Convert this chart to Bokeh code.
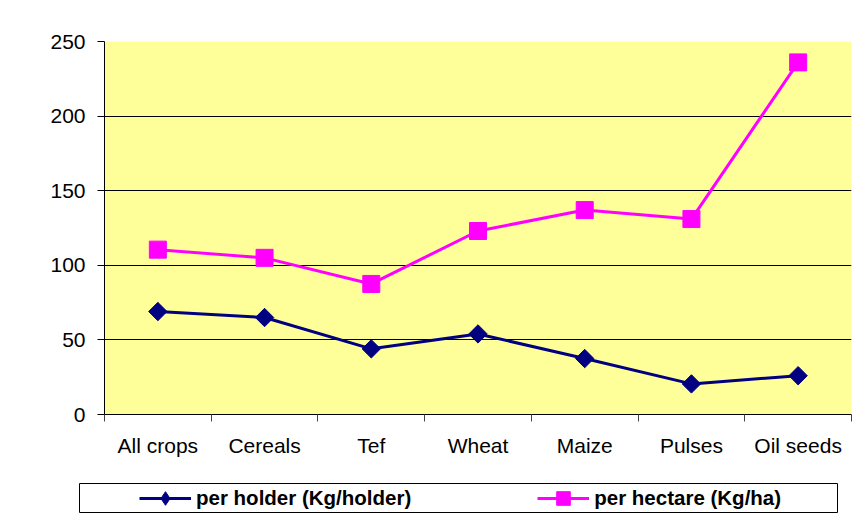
import math
from bokeh.plotting import figure
from bokeh.layouts import column
from bokeh.models import (FixedTicker, LinearAxis, Legend, LegendItem,
                          Range1d, CustomJSTickFormatter)
from bokeh.embed import file_html
from bokeh.resources import INLINE

categories = ["All crops", "Cereals", "Tef", "Wheat", "Maize", "Pulses", "Oil seeds"]
per_holder = [69, 65, 44, 54, 37.5, 20.5, 26]
per_hectare = [110.5, 105, 87.5, 123, 137, 131, 236]
y_ticks = [0, 50, 100, 150, 200, 250]
grid_ticks = [50, 100, 150, 200]
label_holder = "per holder (Kg/holder)"
label_hectare = "per hectare (Kg/ha)"

xs = [i + 0.5 for i in range(len(categories))]
FONT = "Liberation Sans"
NAVY = "#000080"
MAGENTA = "#FF00FF"

p = figure(width=855, height=470, output_backend="svg", toolbar_location=None,
           x_range=Range1d(0, len(categories)), y_range=Range1d(0, 250),
           x_axis_location=None, frame_align=False,
           min_border_left=104, min_border_right=4, min_border_top=41, min_border_bottom=56)
p.background_fill_color = "#FFFF99"
p.border_fill_color = "white"
p.outline_line_color = None
p.xgrid.visible = False

# y axis
p.yaxis.ticker = FixedTicker(ticks=y_ticks)
p.yaxis.major_tick_in = 0
p.yaxis.major_tick_out = 7
p.yaxis.minor_tick_line_color = None
p.yaxis.axis_line_color = "black"
p.yaxis.major_tick_line_color = "black"
p.yaxis.major_label_text_font = FONT
p.yaxis.major_label_text_font_size = "21px"
p.yaxis.major_label_text_color = "black"
p.yaxis.major_label_standoff = 12

p.ygrid.ticker = FixedTicker(ticks=grid_ticks)
p.ygrid.grid_line_color = "black"
p.ygrid.grid_line_width = 1

# x axis: boundary ticks
bound_axis = LinearAxis(ticker=FixedTicker(ticks=list(range(len(categories) + 1))),
                        formatter=CustomJSTickFormatter(code="return ''"),
                        major_tick_in=0, major_tick_out=7, minor_tick_line_color=None,
                        major_label_standoff=0, major_label_text_font_size="1px",
                        axis_line_color="black", major_tick_line_color="#444444")
p.add_layout(bound_axis, "below")

label_axis = LinearAxis(ticker=FixedTicker(ticks=xs),
                        formatter=CustomJSTickFormatter(args=dict(names=categories),
                                                        code="return names[Math.floor(tick)]"),
                        major_tick_line_color=None, minor_tick_line_color=None,
                        axis_line_color=None, major_label_standoff=6,
                        major_label_text_font=FONT, major_label_text_font_size="21px",
                        major_label_text_color="black")
p.add_layout(label_axis, "below")

# series
p.line(xs, per_holder, line_color=NAVY, line_width=3)
p.scatter(xs, per_holder, marker="square", angle=math.pi / 4, size=13,
          fill_color=NAVY, line_color=NAVY)
p.line(xs, per_hectare, line_color=MAGENTA, line_width=3)
p.scatter(xs, per_hectare, marker="square", size=17,
          fill_color=MAGENTA, line_color=MAGENTA)

# legend box as its own small figure (series drawn outside its visible range)
lf = figure(width=838, height=43, output_backend="svg", toolbar_location=None,
            x_range=Range1d(100, 101), y_range=Range1d(1000, 1001),
            x_axis_location=None, y_axis_location=None, frame_align=False,
            min_border_left=79, min_border_right=0, min_border_top=13, min_border_bottom=0)
lf.xgrid.visible = False
lf.ygrid.visible = False
lf.background_fill_color = "white"
lf.border_fill_color = "white"
lf.outline_line_color = "black"
lf.outline_line_width = 1

l1 = lf.line(xs, per_holder, line_color=NAVY, line_width=3)
m1 = lf.scatter(xs, per_holder, marker="diamond", size=13,
                fill_color=NAVY, line_color=NAVY)
l2 = lf.line(xs, per_hectare, line_color=MAGENTA, line_width=3)
m2 = lf.scatter(xs, per_hectare, marker="square", size=17,
                fill_color=MAGENTA, line_color=MAGENTA)

legend = Legend(items=[LegendItem(label=label_holder, renderers=[l1, m1]),
                       LegendItem(label=label_hectare, renderers=[l2, m2])],
                location=(60, -2), orientation="horizontal",
                border_line_color=None, background_fill_alpha=0,
                padding=0, spacing=126, glyph_width=52, glyph_height=34,
                label_standoff=5, label_text_font=FONT, label_text_font_size="20.5px",
                label_text_font_style="bold", label_text_color="black", margin=0)
lf.add_layout(legend, "center")

layout = column(p, lf, spacing=0)
open("out.html", "w").write(file_html(layout, INLINE))
